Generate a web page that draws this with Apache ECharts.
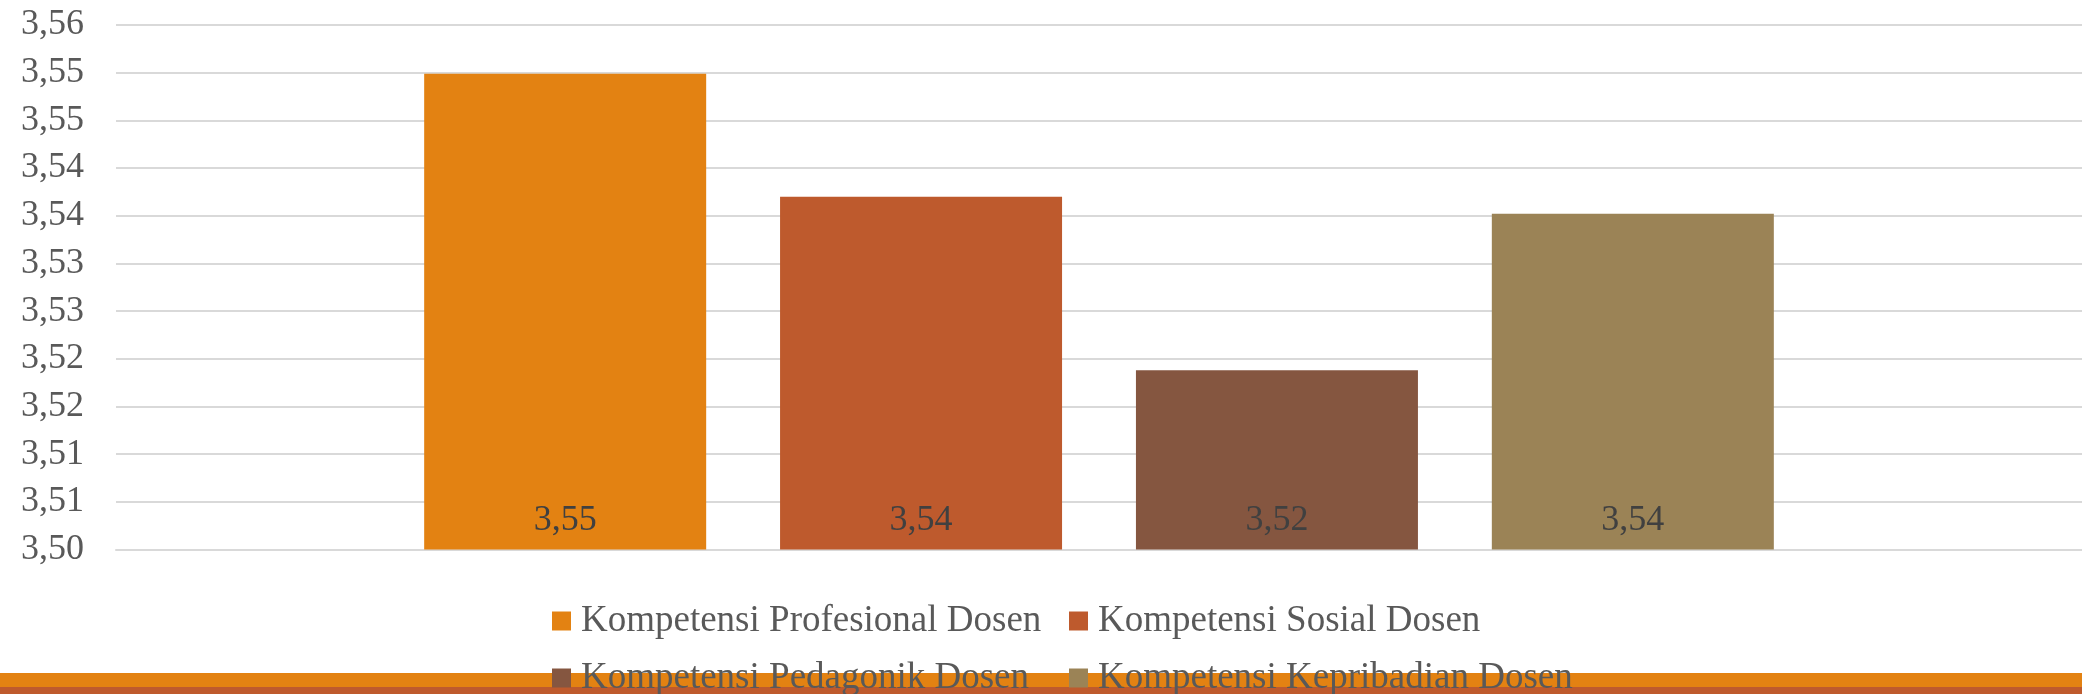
<!DOCTYPE html>
<html>
<head>
<meta charset="utf-8">
<script src="https://cdn.jsdelivr.net/npm/echarts@6/dist/echarts.min.js"></script>
<style>
html,body{margin:0;padding:0;background:#fff;}
#chart{width:2082px;height:694px;}
</style>
</head>
<body>
<div id="chart"></div>
<script>
var categories = [''];
var seriesNames = ['Kompetensi Profesional Dosen', 'Kompetensi Sosial Dosen', 'Kompetensi Pedagonik Dosen', 'Kompetensi Kepribadian Dosen'];
var profesional = [3.5499];
var sosial = [3.537];
var pedagonik = [3.5188];
var kepribadian = [3.5352];
var yTickLabels = ['3,50','3,51','3,51','3,52','3,52','3,53','3,53','3,54','3,54','3,55','3,55','3,56'];
var colors = ['#E38212', '#BE5A2D', '#855640', '#9B8356'];

var FONT = "'Liberation Serif', 'Times New Roman', serif";
var chart = echarts.init(document.getElementById('chart'), null, {renderer: 'canvas'});

function fmt(v) {
  return (Math.round(v * 100) / 100).toFixed(2).replace('.', ',');
}

var seriesData = [profesional, sosial, pedagonik, kepribadian];
var series = seriesData.map(function (d, i) {
  return {
    name: seriesNames[i],
    type: 'bar',
    data: d,
    barWidth: 282,
    barGap: '26.2%',
    itemStyle: {color: colors[i]},
    label: {
      show: true,
      position: 'insideBottom',
      distance: 11,
      fontFamily: FONT,
      fontSize: 36,
      color: '#404040',
      formatter: function (p) { return fmt(p.value); }
    },
    z: 2
  };
});

var legendText = {
  fontFamily: FONT,
  fontSize: 37,
  color: '#595959',
  lineHeight: 40,
  padding: [0, 0, 0, 5]
};

function makeLegend(left, names) {
  return {
    type: 'plain',
    orient: 'vertical',
    left: left,
    top: 601,
    height: 200,
    padding: 0,
    itemWidth: 19,
    itemHeight: 19,
    itemGap: 17,
    icon: 'rect',
    data: names,
    textStyle: legendText,
    z: 10
  };
}

chart.setOption({
  animation: false,
  backgroundColor: '#ffffff',
  grid: {left: 116, right: 0, top: 25, bottom: 144.5, containLabel: false},
  xAxis: {
    type: 'category',
    data: categories,
    axisLine: {show: true, lineStyle: {color: '#D9D9D9', width: 2}},
    axisTick: {show: false},
    axisLabel: {show: false},
    splitLine: {show: false}
  },
  yAxis: {
    type: 'value',
    min: 3.5,
    max: 3.555,
    interval: 0.005,
    axisLine: {show: false},
    axisTick: {show: false},
    axisLabel: {
      margin: 32,
      fontFamily: FONT,
      fontSize: 36,
      color: '#595959',
      formatter: function (v) {
        var idx = Math.round((v - 3.5) / 0.005);
        return yTickLabels[idx];
      }
    },
    splitLine: {lineStyle: {color: '#D9D9D9', width: 2}}
  },
  legend: [
    makeLegend(552, [seriesNames[0], seriesNames[2]]),
    makeLegend(1069, [seriesNames[1], seriesNames[3]])
  ],
  graphic: [
    {type: 'rect', left: 0, top: 673, shape: {width: 2082, height: 14}, style: {fill: '#E38212'}, z: 0, silent: true},
    {type: 'rect', left: 0, top: 687, shape: {width: 2082, height: 7}, style: {fill: '#BE5A2D'}, z: 0, silent: true}
  ],
  series: series
});
</script>
</body>
</html>
